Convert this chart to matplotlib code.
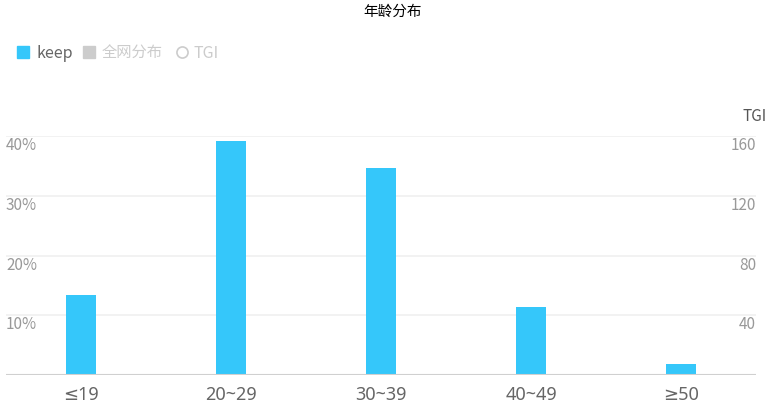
import numpy as np
import matplotlib.pyplot as plt
from matplotlib.patches import Rectangle
from matplotlib.lines import Line2D

plt.rcParams['font.family'] = ['Noto Sans CJK SC', 'DejaVu Sans']

# data
categories = ['≤19', '20~29', '30~39', '40~49', '≥50']
keep = [13.4, 39.1, 34.6, 11.4, 1.8]   # percent
y_ticks = [10, 20, 30, 40]
tgi_ticks = [40, 80, 120, 160]

W, H = 772, 414
fig = plt.figure(figsize=(W/100, H/100), dpi=100)
ax = fig.add_axes([6/W, (H-376)/H, 750/W, 239/H])

x = np.arange(len(categories))
ax.bar(x, keep, width=0.2, color='#35c7fa', zorder=3)
ax.set_xlim(-0.5, len(categories)-0.5)
ax.set_ylim(0, 40)

for t in y_ticks:
    ax.axhline(t, color='#f0f0f0', lw=1.2, zorder=1)
ax.axhline(0, color='#d0d0d0', lw=1.5, zorder=4)

for s in ax.spines.values():
    s.set_visible(False)
ax.set_yticks([])
ax.set_xticks(x)
ax.set_xticklabels(categories, fontsize=13, color='#666666',
                   family=['Noto Sans', 'DejaVu Sans'])
ax.tick_params(axis='x', length=0, pad=7)

# left labels, inside the plot, just below grid lines
for t in y_ticks:
    ax.text(0.0, t, '%d%%' % t, transform=ax.get_yaxis_transform(),
            ha='left', va='top', fontsize=11, color='#999999')
# right TGI axis labels (40 per 10%)
for i, t in enumerate(tgi_ticks):
    ax.text(1.0, y_ticks[i], str(t), transform=ax.get_yaxis_transform(),
            ha='right', va='top', fontsize=11, color='#999999')
fig.text(767/W, 1-117/H, 'TGI', ha='right', va='center', fontsize=11, color='#555555')

# title
fig.text(393/W, 1-12/H, '年龄分布', ha='center', va='center', fontsize=10.5, color='#000000')

# legend
ly = 1-53/H
fig.patches.append(Rectangle((17/W, ly-6/H), 12/W, 12/H, transform=fig.transFigure,
                             color='#35c7fa'))
fig.text(36/W, ly, 'keep', ha='left', va='center', fontsize=11.5, color='#666666')
fig.patches.append(Rectangle((83/W, ly-6/H), 12/W, 12/H, transform=fig.transFigure,
                             color='#cccccc'))
fig.text(102/W, ly, '全网分布', ha='left', va='center', fontsize=11, color='#cccccc')
fig.add_artist(Line2D([181.5/W], [ly], transform=fig.transFigure, marker='o',
                      markersize=8, mfc='white', mec='#cccccc', mew=1.2, ls='none'))
fig.text(194/W, ly, 'TGI', ha='left', va='center', fontsize=11.5, color='#cccccc')

fig.savefig('out.png', dpi=100)
